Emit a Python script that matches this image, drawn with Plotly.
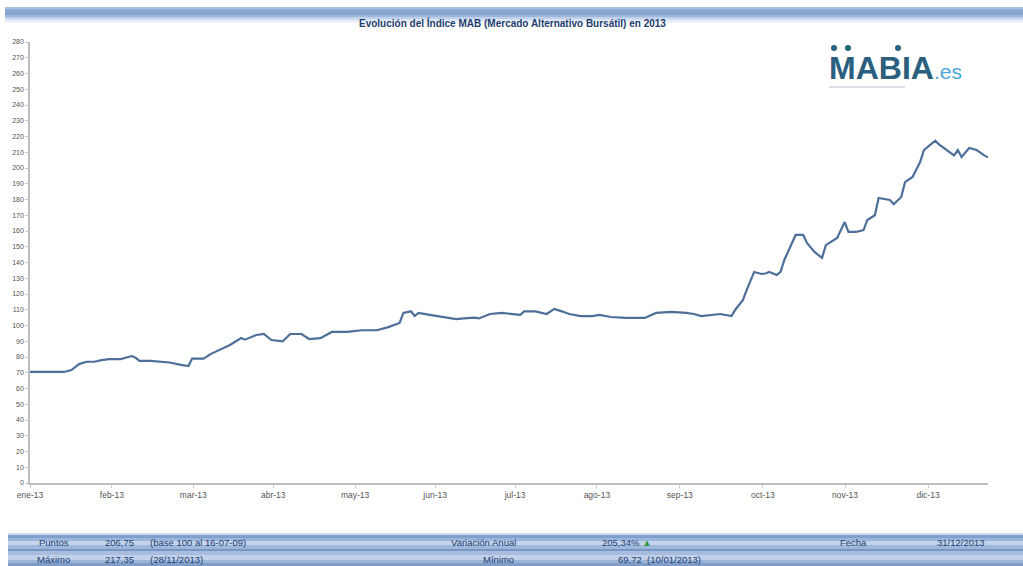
import plotly.graph_objects as go

# Sesiones bursátiles de 2013 (índice de sesión) y valor del índice MAB
sesion = [0, 9, 11, 13, 15, 17, 19, 21, 24, 27, 28, 29, 32, 34, 37, 40, 42, 43, 46, 48,
          50, 53, 56, 57, 60, 62, 64, 67, 69, 72, 74, 77, 80, 84, 88, 92, 95, 98, 99, 101,
          102, 103, 106, 109, 113, 115, 118, 119, 122, 125, 129, 130, 131, 134, 137, 139, 141, 143, 146, 149,
          151, 154, 158, 160, 163, 166, 170, 174, 176, 178, 180, 183, 186, 187, 189, 190, 192, 194, 195, 196,
          198, 199, 200, 202, 203, 205, 206, 208, 210, 211, 212, 214, 215, 216, 217, 219, 221, 222, 224, 225,
          228, 229, 231, 232, 234, 236, 237, 240, 241, 243, 245, 246, 247, 249, 251, 253, 254]
valor = [70.5, 70.5, 71.7, 75.5, 77.0, 77.0, 78.0, 78.7, 78.7, 80.6, 79.5, 77.5, 77.5, 77.0, 76.5, 75.0, 74.3, 79.0, 79.0, 82.0,
         84.4, 87.6, 92.0, 91.0, 94.0, 94.6, 90.8, 90.0, 94.6, 94.6, 91.4, 92.0, 95.9, 95.9, 97.0, 97.0, 99.0, 101.6, 108.0, 109.0,
         106.0, 108.0, 106.7, 105.4, 104.0, 104.5, 105.0, 104.5, 107.3, 108.0, 107.3, 106.8, 109.0, 109.0, 107.3, 110.5, 109.0, 107.3, 106.0, 106.0,
         106.7, 105.4, 104.8, 104.8, 104.8, 108.0, 108.6, 108.0, 107.3, 106.0, 106.7, 107.3, 106.0, 110.0, 116.0, 122.5, 134.0, 132.7, 133.0, 134.0,
         132.0, 134.0, 141.6, 153.0, 157.5, 157.5, 152.4, 146.7, 142.9, 151.0, 152.4, 155.6, 160.6, 165.7, 159.4, 159.4, 160.6, 167.0, 170.0, 181.0,
         179.7, 177.0, 181.6, 191.0, 194.3, 203.8, 211.4, 217.35, 215.0, 211.4, 208.0, 211.4, 207.0, 212.7, 211.4, 208.0, 206.75]

# Etiquetas del eje X (una por mes)
meses = ["ene-13", "feb-13", "mar-13", "abr-13", "may-13", "jun-13",
         "jul-13", "ago-13", "sep-13", "oct-13", "nov-13", "dic-13"]
sesion_mes = [0, 21.7, 43.3, 64.5, 86.2, 107.4, 128.6, 150.3, 172.3, 194.3, 216.1, 238.1]

titulo = "Evolución del Índice MAB (Mercado Alternativo Bursátil) en 2013"
puntos = "206,75"
base = "(base 100 al 16-07-09)"
variacion = "205,34%"
fecha = "31/12/2013"
maximo = "217,35"
fecha_max = "(28/11/2013)"
minimo = "69,72"
fecha_min = "(10/01/2013)"

W, H = 1023, 566
L, R, T, B = 30, 35, 42, 83
PW, PH = W - L - R, H - T - B


def px(x):
    return (x - L) / PW


def py(y):
    return (H - B - y) / PH


fig = go.Figure()
fig.add_trace(go.Scatter(x=sesion, y=valor, mode="lines",
                         line=dict(color="#4d6f99", width=2.2),
                         hoverinfo="x+y", showlegend=False))

shapes = []
# Banda del título con degradado
title_strips = [(7, 9, "#a9c0e0"), (9, 12, "#8eabd6"), (12, 15, "#86a4d0"), (15, 17, "#9fb8de"),
                (17, 19, "#bfd0ea"), (19, 21, "#dbe5f3"), (21, 23, "#eff4fa")]
for y0, y1, c in title_strips:
    shapes.append(dict(type="rect", xref="paper", yref="paper", x0=px(5), x1=px(W),
                       y0=py(y1), y1=py(y0), fillcolor=c, line_width=0, layer="below"))

# Bandas del pie
foot_strips = [(533, 535, "#c9dcef"), (535, 538, "#7f9fcc"), (538, 541, "#9cb5da"), (541, 545, "#c3d3eb"),
               (545, 549, "#9fb7db"), (549, 551, "#7896c4"), (551, 555, "#a6bde0"), (555, 560, "#c1d1ea"),
               (560, 563, "#9cb4d9"), (563, 566, "#7f9cc9")]
for y0, y1, c in foot_strips:
    shapes.append(dict(type="rect", xref="paper", yref="paper", x0=px(8), x1=px(W),
                       y0=py(y1), y1=py(y0), fillcolor=c, line_width=0, layer="below"))

# Logotipo: puntos sobre la M y la I, y línea inferior
for cx in (834, 848, 898):
    shapes.append(dict(type="circle", xref="paper", yref="paper",
                       x0=px(cx - 3), x1=px(cx + 3), y0=py(51), y1=py(45),
                       fillcolor="#2b5f80", line_width=0))
shapes.append(dict(type="line", xref="paper", yref="paper", x0=px(829), x1=px(905),
                   y0=py(87), y1=py(87), line=dict(color="#b3bec8", width=1)))

ann = []
ann.append(dict(text="<b>" + titulo + "</b>", x=px(512), y=py(15), xref="paper", yref="paper",
                showarrow=False, font=dict(size=10, color="#1f3d6e", family="Liberation Sans Narrow, Liberation Sans")))
ann.append(dict(text="<b>MABIA</b><span style='color:#4aa6dc;font-size:21px'>.es</span>",
                x=px(827), y=py(68), xref="paper", yref="paper", xanchor="left", yanchor="middle",
                showarrow=False, font=dict(size=32, color="#2b5f80", family="Liberation Sans")))

foot_font = dict(size=9.5, color="#233f70", family="Liberation Sans")


def foot(text, x, y, anchor="left"):
    ann.append(dict(text=text, x=px(x), y=py(y), xref="paper", yref="paper",
                    xanchor=anchor, yanchor="middle", showarrow=False, font=foot_font))


foot("Puntos", 37, 542)
foot(puntos, 103, 542)
foot(base, 148, 542)
foot("Variación Anual", 518, 542, "right")
foot(variacion + " <span style='color:#2e9a3c'>▲</span>", 600, 542)
foot("Fecha", 838, 542)
foot(fecha, 987, 542, "right")
foot("Máximo", 35, 559)
foot(maximo, 103, 559)
foot(fecha_max, 148, 559)
foot("Mínimo", 516, 559, "right")
foot(minimo + "  " + fecha_min, 616, 559)

fig.update_layout(
    width=W, height=H,
    margin=dict(l=L, r=R, t=T, b=B),
    paper_bgcolor="white", plot_bgcolor="white",
    shapes=shapes, annotations=ann,
    font=dict(family="Liberation Sans", color="#555555"),
    xaxis=dict(range=[0, 254], tickvals=sesion_mes, ticktext=meses,
               showgrid=False, zeroline=False, showline=True, linecolor="#bdbdbd", linewidth=1.5,
               ticks="outside", ticklen=3, tickcolor="#cccccc",
               tickfont=dict(size=8.5, color="#555555")),
    yaxis=dict(range=[0, 280], dtick=10, showgrid=False, zeroline=False,
               showline=True, linecolor="#bdbdbd", linewidth=1.5,
               ticks="outside", ticklen=3, tickcolor="#cccccc",
               tickfont=dict(size=7, color="#555555")),
)

fig.write_html("out.html")
